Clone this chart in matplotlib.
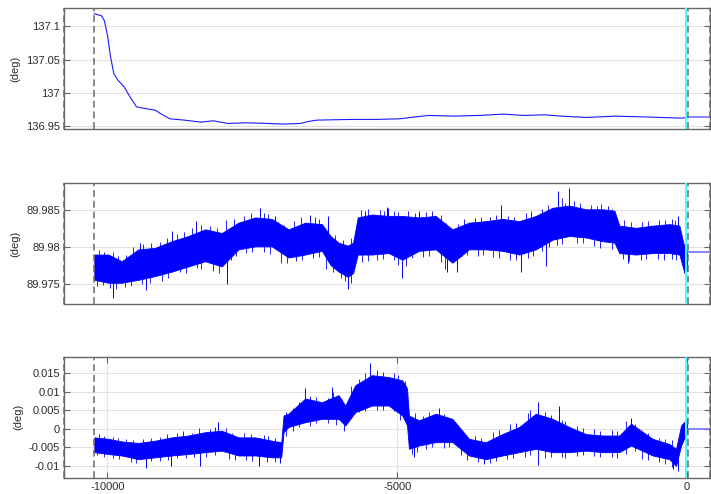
import numpy as np
import matplotlib
matplotlib.use("Agg")
import matplotlib.pyplot as plt
from matplotlib.ticker import FormatStrFormatter

plt.rcParams['font.family'] = ['Liberation Sans', 'DejaVu Sans']
plt.rcParams['axes.unicode_minus'] = False

# ---- data ----
# top panel: smooth angle (deg)
top_x = [-10225, -10103, -10053, -9996, -9946, -9889, -9818, -9710, -9603, -9496,
         -9388, -9174, -9067, -8923, -8673, -8387, -8172, -7922, -7600, -7243,
         -6957, -6671, -6528, -6385, -5813, -5384, -4955, -4669, -4455, -4025,
         -3596, -3167, -2810, -2452, -2166, -1737, -1237, -808, -450, -93, 0]
top_y = [137.119, 137.116, 137.109, 137.086, 137.055, 137.029, 137.019, 137.009, 136.993, 136.979,
         136.977, 136.974, 136.968, 136.961, 136.959, 136.956, 136.958, 136.954, 136.955, 136.954,
         136.953, 136.954, 136.957, 136.959, 136.960, 136.960, 136.961, 136.964, 136.966, 136.965,
         136.966, 136.968, 136.966, 136.967, 136.965, 136.963, 136.965, 136.964, 136.963, 136.962, 136.963]
top_hold = 136.963

# middle panel: noisy band (upper / lower edge of the dense trace)
mid_x = [-10225, -9983, -9752, -9465, -9177, -8889, -8601, -8313, -8025, -7737,
         -7449, -7162, -6874, -6586, -6298, -6150, -6010, -5850, -5760, -5680,
         -5434, -5147, -4911, -4623, -4335, -4047, -3759, -3471, -3183, -2895,
         -2607, -2319, -2031, -1743, -1455, -1250, -1167, -879, -591, -303,
         -130, -60, 0]
mid_hi = [89.9790, 89.9790, 89.9781, 89.9797, 89.9799, 89.9808, 89.9815, 89.9824, 89.9819, 89.9833,
          89.9840, 89.9838, 89.9824, 89.9833, 89.9831, 89.9815, 89.9806, 89.9802, 89.9806, 89.9840,
          89.9844, 89.9842, 89.9842, 89.9840, 89.9842, 89.9824, 89.9833, 89.9835, 89.9838, 89.9835,
          89.9842, 89.9853, 89.9856, 89.9851, 89.9851, 89.9849, 89.9829, 89.9826, 89.9829, 89.9831,
          89.9829, 89.9805, 89.9795]
mid_lo = [89.9756, 89.9752, 89.9752, 89.9756, 89.9761, 89.9767, 89.9774, 89.9781, 89.9774, 89.9797,
          89.9801, 89.9801, 89.9786, 89.9790, 89.9795, 89.9776, 89.9767, 89.9760, 89.9765, 89.9790,
          89.9790, 89.9792, 89.9783, 89.9795, 89.9797, 89.9779, 89.9797, 89.9797, 89.9795, 89.9790,
          89.9797, 89.9810, 89.9815, 89.9813, 89.9808, 89.9806, 89.9792, 89.9790, 89.9792, 89.9792,
          89.9790, 89.9770, 89.9768]
# tall spikes
mid_spike_x = [-9908, -9332, -9430, -8889, -8469, -7939, -7363, -7104, -6500, -6195,
               -5850, -5176, -5549, -4922, -5153, -4623, -4133, -3960, -3212, -2855,
               -2423, -2233, -2031, -1368, -1022, -159, -55]
mid_spike_y = [89.9731, 89.9742, 89.9805, 89.9822, 89.9835, 89.9750, 89.9853, 89.9842, 89.9843, 89.9842,
               89.9743, 89.9854, 89.9849, 89.9758, 89.9853, 89.9849, 89.9766, 89.9766, 89.9857, 89.9767,
               89.9774, 89.9875, 89.9879, 89.9856, 89.9779, 89.9842, 89.9765]
# short hairs along the upper edge
mid_up_x = [-10150, -10060, -9900, -9820, -9680, -9560, -9380, -9250, -9100, -8970,
            -8800, -8680, -8540, -8380, -8230, -8100, -7960, -7820, -7650, -7520,
            -7290, -7220, -7050, -6950, -6780, -6660, -6420, -6350, -6080, -5930,
            -5790, -5620, -5500, -5300, -5220, -5050, -4980, -4820, -4700, -4500,
            -4400, -4250, -4150, -3950, -3850, -3650, -3550, -3400, -3300, -3080,
            -2980, -2780, -2690, -2500, -2400, -2150, -2100, -1950, -1850, -1650,
            -1550, -1480, -1300, -1080, -960, -780, -680, -480, -380, -250, -200]
mid_up_y = [89.9796, 89.9794, 89.9793, 89.9788, 89.9790, 89.9800, 89.9804, 89.9805, 89.9807, 89.9812,
            89.9818, 89.9821, 89.9826, 89.9830, 89.9829, 89.9826, 89.9836, 89.9838, 89.9842, 89.9846,
            89.9846, 89.9844, 89.9834, 89.9830, 89.9835, 89.9840, 89.9840, 89.9838, 89.9816, 89.9810,
            89.9812, 89.9850, 89.9851, 89.9850, 89.9849, 89.9849, 89.9847, 89.9848, 89.9846, 89.9847,
            89.9849, 89.9843, 89.9832, 89.9831, 89.9838, 89.9839, 89.9841, 89.9841, 89.9843, 89.9842,
            89.9840, 89.9846, 89.9848, 89.9852, 89.9857, 89.9866, 89.9860, 89.9862, 89.9859, 89.9857,
            89.9856, 89.9858, 89.9852, 89.9836, 89.9834, 89.9834, 89.9835, 89.9836, 89.9837, 89.9838, 89.9836]
# short hairs along the lower edge
mid_dn_x = [-10180, -10080, -9950, -9850, -9700, -9600, -9400, -9270, -9050, -8950,
            -8750, -8650, -8450, -8380, -8180, -8080, -7870, -7780, -7600, -7500,
            -7300, -7200, -7000, -6900, -6750, -6650, -6450, -6350, -6230, -6100,
            -5960, -5900, -5800, -5600, -5500, -5350, -5250, -5050, -4980, -4850,
            -4750, -4550, -4450, -4250, -4180, -3880, -3800, -3600, -3520, -3350,
            -3250, -3050, -2950, -2750, -2650, -2500, -2380, -2250, -2150, -1900,
            -1800, -1600, -1500, -1300, -1100, -1000, -800, -700, -500, -400, -250, -180]
mid_dn_y = [89.9747, 89.9749, 89.9745, 89.9744, 89.9746, 89.9748, 89.9750, 89.9752, 89.9754, 89.9758,
            89.9766, 89.9765, 89.9772, 89.9770, 89.9768, 89.9765, 89.9783, 89.9788, 89.9792, 89.9794,
            89.9793, 89.9791, 89.9778, 89.9779, 89.9781, 89.9782, 89.9786, 89.9787, 89.9770, 89.9767,
            89.9759, 89.9755, 89.9752, 89.9780, 89.9781, 89.9783, 89.9784, 89.9782, 89.9776, 89.9774,
            89.9785, 89.9787, 89.9788, 89.9780, 89.9770, 89.9788, 89.9789, 89.9788, 89.9790, 89.9787,
            89.9786, 89.9783, 89.9782, 89.9786, 89.9788, 89.9795, 89.9800, 89.9803, 89.9804, 89.9806,
            89.9805, 89.9801, 89.9799, 89.9798, 89.9784, 89.9781, 89.9783, 89.9784, 89.9784, 89.9783,
            89.9784, 89.9782]
mid_hold = 89.9794

# bottom panel: noisy band
bot_x = [-10225, -9983, -9752, -9465, -9177, -8889, -8601, -8313, -8025, -7737,
         -7449, -7162, -7000, -6960, -6874, -6586, -6298, -6010, -5895, -5722,
         -5434, -5147, -4911, -4830, -4796, -4623, -4335, -4047, -3759, -3471,
         -3183, -2895, -2607, -2319, -2031, -1743, -1455, -1167, -965, -591,
         -303, -188, -101, 0]
bot_hi = [-0.0023, -0.0027, -0.0034, -0.0038, -0.0032, -0.0023, -0.0018, -0.0009, -0.0005, -0.0023,
          -0.0023, -0.0032, -0.0036, 0.0036, 0.0041, 0.0082, 0.0072, 0.0091, 0.0063, 0.0118,
          0.0145, 0.0140, 0.0131, 0.0110, 0.0036, 0.0023, 0.0041, 0.0027, -0.0027, -0.0036,
          -0.0014, 0.0005, 0.0041, 0.0027, 0.0005, -0.0014, -0.0018, -0.0018, 0.0014, -0.0027,
          -0.0041, -0.0054, 0.0009, 0.0027]
bot_lo = [-0.0063, -0.0068, -0.0072, -0.0082, -0.0077, -0.0072, -0.0068, -0.0063, -0.0059, -0.0072,
          -0.0072, -0.0077, -0.0077, -0.0009, 0.0005, 0.0018, 0.0027, 0.0027, 0.0009, 0.0045,
          0.0063, 0.0063, 0.0036, 0.0010, -0.0054, -0.0045, -0.0036, -0.0036, -0.0072, -0.0082,
          -0.0072, -0.0063, -0.0054, -0.0063, -0.0063, -0.0059, -0.0063, -0.0063, -0.0045, -0.0072,
          -0.0082, -0.0100, -0.0045, -0.0009]
bot_spike_x = [-9338, -8901, -8400, -8083, -7380, -7018, -6586, -6125, -5462, -4710,
               -4278, -3500, -2578, -2578, -2204, -965, -245, -159]
bot_spike_y = [-0.0107, -0.0101, -0.0101, 0.0018, -0.0100, -0.0091, 0.0109, 0.0113, 0.0177, -0.0077,
               0.0056, -0.0095, 0.0072, -0.0098, 0.0063, 0.0029, -0.0109, -0.0113]
bot_up_x = [-10150, -10050, -9900, -9820, -9680, -9560, -9380, -9250, -9100, -8970,
            -8800, -8700, -8540, -8420, -8230, -8150, -7960, -7850, -7650, -7520,
            -7300, -7220, -7100, -6920, -6800, -6700, -6500, -6400, -6200, -6100,
            -5950, -5800, -5650, -5550, -5350, -5250, -5050, -4980, -4870, -4700,
            -4550, -4450, -4200, -4100, -3950, -3850, -3650, -3550, -3350, -3250,
            -3050, -2950, -2750, -2700, -2450, -2350, -2150, -2100, -1900, -1800,
            -1600, -1500, -1300, -1200, -1050, -900, -780, -680, -480, -380, -250]
bot_up_y = [-0.0015, -0.0018, -0.0021, -0.0024, -0.0027, -0.0029, -0.0028, -0.0024, -0.0022, -0.0014,
            -0.0012, -0.0006, -0.0010, 0.0003, -0.0001, 0.0006, 0.0002, -0.0010, -0.0012, -0.0014,
            -0.0016, -0.0020, -0.0024, 0.0045, 0.0055, 0.0072, 0.0090, 0.0085, 0.0083, 0.0100,
            0.0080, 0.0115, 0.0135, 0.0150, 0.0158, 0.0154, 0.0150, 0.0145, 0.0128, 0.0042,
            0.0036, 0.0045, 0.0040, 0.0030, 0.0010, -0.0015, -0.0018, -0.0025, -0.0008, -0.0004,
            0.0012, 0.0015, 0.0042, 0.0050, 0.0045, 0.0038, 0.0025, 0.0020, 0.0008, 0.0003,
            0.0000, -0.0006, -0.0004, -0.0005, 0.0020, 0.0012, -0.0008, -0.0012, -0.0024, -0.0028, -0.0030]
bot_dn_x = [-10180, -10050, -9900, -9800, -9600, -9500, -9250, -9100, -8950, -8800,
            -8650, -8500, -8300, -8150, -7900, -7800, -7600, -7500, -7250, -7100,
            -6920, -6800, -6700, -6500, -6400, -6200, -6050, -5920, -5800, -5650,
            -5550, -5350, -5250, -5050, -4950, -4750, -4650, -4500, -4400, -4200,
            -4100, -3900, -3800, -3600, -3400, -3300, -3100, -3000, -2800, -2700,
            -2450, -2350, -2150, -2100, -1900, -1800, -1600, -1500, -1300, -1200,
            -1050, -900, -780, -680, -480, -380, -250]
bot_dn_y = [-0.0072, -0.0076, -0.0078, -0.0081, -0.0090, -0.0092, -0.0088, -0.0086, -0.0085, -0.0080,
            -0.0078, -0.0077, -0.0075, -0.0070, -0.0082, -0.0084, -0.0085, -0.0088, -0.0089, -0.0090,
            -0.0018, -0.0006, 0.0004, 0.0008, 0.0015, 0.0016, 0.0010, -0.0005, 0.0030, 0.0045,
            0.0048, 0.0050, 0.0052, 0.0048, 0.0025, -0.0068, -0.0062, -0.0055, -0.0050, -0.0052,
            -0.0050, -0.0070, -0.0085, -0.0090, -0.0092, -0.0088, -0.0082, -0.0078, -0.0075, -0.0072,
            -0.0078, -0.0075, -0.0075, -0.0078, -0.0074, -0.0072, -0.0074, -0.0076, -0.0075, -0.0078,
            -0.0068, -0.0060, -0.0082, -0.0085, -0.0090, -0.0095, -0.0102]
bot_hold = 0.0

x_start = -10235
x_lim = (-10742, 397)

top_ticks = [136.95, 137.0, 137.05, 137.1]
mid_ticks = [89.975, 89.98, 89.985]
bot_ticks = [-0.01, -0.005, 0, 0.005, 0.01, 0.015]
x_ticks = [-10000, -5000, 0]

# ---- figure ----
fig = plt.figure(figsize=(7.11, 4.94), dpi=100)
left, width, height = 0.0905, 0.908, 0.245
ax_top = fig.add_axes([left, 0.738, width, height])
ax_mid = fig.add_axes([left, 0.384, width, height])
ax_bot = fig.add_axes([left, 0.033, width, height])

dash_col = '#6a6a6a'
spine_col = '#666666'
blue = '#0000ff'
hold_col = '#7070ff'


def style(ax, ylim, yticks, show_x):
    ax.set_xlim(*x_lim)
    ax.set_ylim(*ylim)
    ax.set_yticks(yticks)
    ax.yaxis.set_major_formatter(FormatStrFormatter('%g'))
    ax.tick_params(direction='in', length=4, width=0.8, colors=spine_col,
                   labelcolor='#2b2b2b', labelsize=8, pad=3,
                   top=show_x, right=True)
    ax.grid(axis='y', color='#e2e2e2', lw=0.8)
    if show_x:
        ax.set_xticks(x_ticks)
        ax.grid(axis='x', color='#e2e2e2', lw=0.8)
    else:
        ax.set_xticks([])
    ax.set_axisbelow(True)
    for s in ax.spines.values():
        s.set_color(spine_col)
        s.set_linewidth(1.0)
    ax.set_ylabel('(deg)', fontsize=8, color='#2b2b2b', labelpad=4)
    # event markers
    for xv in (x_lim[0], x_start, x_lim[1]):
        ax.axvline(xv, color=dash_col, lw=1.1, dashes=(4.5, 2.5), clip_on=False, zorder=5)
    ax.axvline(-8, color='#44ffff', lw=1.4, zorder=4)
    ax.axvline(14, color=dash_col, lw=1.1, dashes=(4.5, 2.5), zorder=5)


def band(ax, xs, hi, lo, hairs, hold):
    xs = np.array(xs)
    hi = np.array(hi)
    lo = np.array(lo)
    ax.fill_between(xs, lo, hi, color=blue, lw=0.6, zorder=3)
    mid = (hi + lo) / 2
    for hx, hy, w in hairs:
        base = np.interp(hx, xs, mid)
        ax.vlines(hx, base, hy, color=blue, lw=w, zorder=3)
    ax.plot([0, x_lim[1]], [hold, hold], color=hold_col, lw=1.2, zorder=3)


# top
ax_top.plot(top_x, top_y, color='#1a1aff', lw=0.8, zorder=3)
ax_top.plot([0, x_lim[1]], [top_hold, top_hold], color=hold_col, lw=1.2, zorder=3)
style(ax_top, (136.945, 137.127), top_ticks, False)

# middle
band(ax_mid, mid_x, mid_hi, mid_lo,
     [(mid_spike_x, mid_spike_y, 0.7), (mid_up_x, mid_up_y, 0.6), (mid_dn_x, mid_dn_y, 0.6)],
     mid_hold)
style(ax_mid, (89.9723, 89.9886), mid_ticks, False)

# bottom
band(ax_bot, bot_x, bot_hi, bot_lo,
     [(bot_spike_x, bot_spike_y, 0.7), (bot_up_x, bot_up_y, 0.6), (bot_dn_x, bot_dn_y, 0.6)],
     bot_hold)
style(ax_bot, (-0.0132, 0.0195), bot_ticks, True)

fig.savefig('out.png', dpi=100)
